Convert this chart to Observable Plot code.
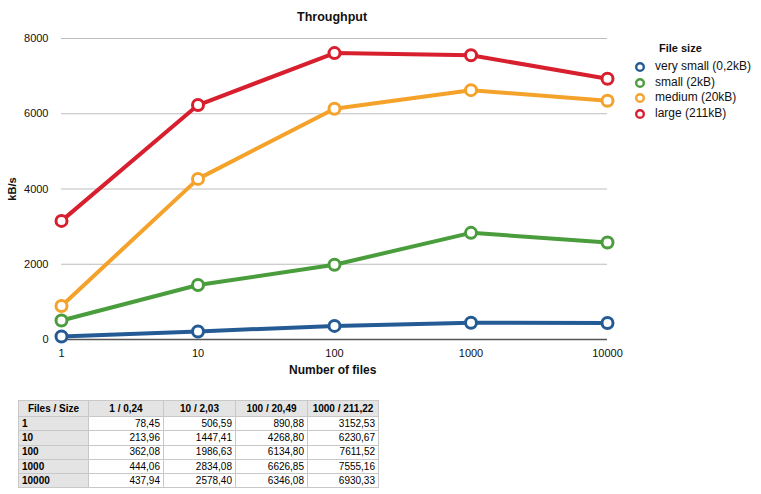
<!DOCTYPE html>
<html><head><meta charset="utf-8">
<script src="https://cdn.jsdelivr.net/npm/d3@7"></script>
<script src="https://cdn.jsdelivr.net/npm/@observablehq/plot@0.6"></script>
<style>
body{margin:0;background:#fff;font-family:"Liberation Sans",Arial,sans-serif;}
#wrap{position:relative;width:761px;height:494px;}
.abs{position:absolute;white-space:nowrap;color:#111;}
#chart svg{position:absolute;left:0;top:0;}
table{border-collapse:collapse;font-size:10px;table-layout:fixed;}
td,th{border:1px solid #c8c8c8;height:14.3px;line-height:12px;padding:0 3px;box-sizing:border-box;overflow:hidden;white-space:nowrap;}
th{background:#e4e4e4;font-weight:bold;text-align:center;}
td.h{background:#e4e4e4;font-weight:bold;text-align:left;}
td{text-align:right;}
</style></head>
<body><div id="wrap"><div id="chart"></div></div>
<script>
const fileCounts = [1, 10, 100, 1000, 10000];
const seriesNames = ["very small (0,2kB)", "small (2kB)", "medium (20kB)", "large (211kB)"];
const colHeaders = ["1 / 0,24", "10 / 2,03", "100 / 20,49", "1000 / 211,22"];
const verySmall = [78.45, 213.96, 362.08, 444.06, 437.94];
const small = [506.59, 1447.41, 1986.63, 2834.08, 2578.40];
const medium = [890.88, 4268.80, 6134.80, 6626.85, 6346.08];
const large = [3152.53, 6230.67, 7611.52, 7555.16, 6930.33];
const colors = ["#255b95", "#4a9d3c", "#f5a22b", "#d71f2e"];
const yTicks = [0, 2000, 4000, 6000, 8000];

const seriesVals = [verySmall, small, medium, large];
const data = [];
seriesVals.forEach((vals, s) => vals.forEach((v, i) => data.push({series: seriesNames[s], n: fileCounts[i], v})));

const plot = Plot.plot({
  width: 761, height: 390,
  marginLeft: 61, marginRight: 154, marginTop: 38, marginBottom: 51,
  style: {fontFamily: '"Liberation Sans",Arial,sans-serif', fontSize: "11px", color: "#111"},
  x: {type: "log", domain: [1, 10000], ticks: fileCounts, tickFormat: d => String(d), tickSize: 0, tickPadding: 10, label: null},
  y: {domain: [0, 8000], ticks: yTicks, tickFormat: d => String(d), tickSize: 0, tickPadding: 13, label: null, grid: false},
  color: {domain: seriesNames, range: colors},
  marks: [
    Plot.ruleY(yTicks.filter(d => d > 0), {stroke: "#bdbdbd", strokeWidth: 1.2}),
    Plot.ruleY([0], {stroke: "#555", strokeWidth: 1.5}),
    Plot.line(data, {x: "n", y: "v", z: "series", stroke: "series", strokeWidth: 4}),
    Plot.dot(data, {x: "n", y: "v", stroke: "series", fill: "white", r: 5.5, strokeWidth: 3})
  ]
});
const wrap = document.getElementById("wrap");
document.getElementById("chart").appendChild(plot);

function addText(txt, x, y, opts = {}) {
  const d = document.createElement("div");
  d.className = "abs";
  d.textContent = txt;
  d.style.left = x + "px"; d.style.top = y + "px";
  Object.assign(d.style, opts);
  wrap.appendChild(d);
  return d;
}
addText("Throughput", 297, 10, {fontWeight: "bold", fontSize: "12.5px"});
addText("Number of files", 289, 363, {fontWeight: "bold", fontSize: "12px"});
addText("kB/s", 0, 183, {fontWeight: "bold", fontSize: "11px", transform: "rotate(-90deg)", transformOrigin: "center", left: "0px"});
addText("File size", 659, 42, {fontWeight: "bold", fontSize: "11px"});

// legend
seriesNames.forEach((name, i) => {
  const y = 60 + i * 15.5;
  const svgNS = "http://www.w3.org/2000/svg";
  const s = document.createElementNS(svgNS, "svg");
  s.setAttribute("width", 14); s.setAttribute("height", 14);
  s.style.position = "absolute"; s.style.left = "633px"; s.style.top = y + "px";
  const c = document.createElementNS(svgNS, "circle");
  c.setAttribute("cx", 7); c.setAttribute("cy", 7); c.setAttribute("r", 3.8);
  c.setAttribute("fill", "white"); c.setAttribute("stroke", colors[i]); c.setAttribute("stroke-width", 2.4);
  s.appendChild(c); wrap.appendChild(s);
  addText(name, 655, y - 1, {fontSize: "12px"});
});

// table
const tbl = document.createElement("table");
tbl.style.position = "absolute"; tbl.style.left = "18px"; tbl.style.top = "400px";
tbl.style.width = "360px";
const widths = [70, 75, 72, 72, 71];
let tr = document.createElement("tr");
["Files / Size", ...colHeaders].forEach((h, j) => {
  const th = document.createElement("th"); th.textContent = h; th.style.width = widths[j] + "px"; tr.appendChild(th);
});
tr.style.height = "16px";
tbl.appendChild(tr);
fileCounts.forEach((n, i) => {
  const r = document.createElement("tr");
  const td0 = document.createElement("td"); td0.className = "h"; td0.textContent = String(n); r.appendChild(td0);
  seriesVals.forEach(vals => {
    const td = document.createElement("td"); td.textContent = vals[i].toFixed(2).replace(".", ","); r.appendChild(td);
  });
  tbl.appendChild(r);
});
wrap.appendChild(tbl);
</script></body></html>
